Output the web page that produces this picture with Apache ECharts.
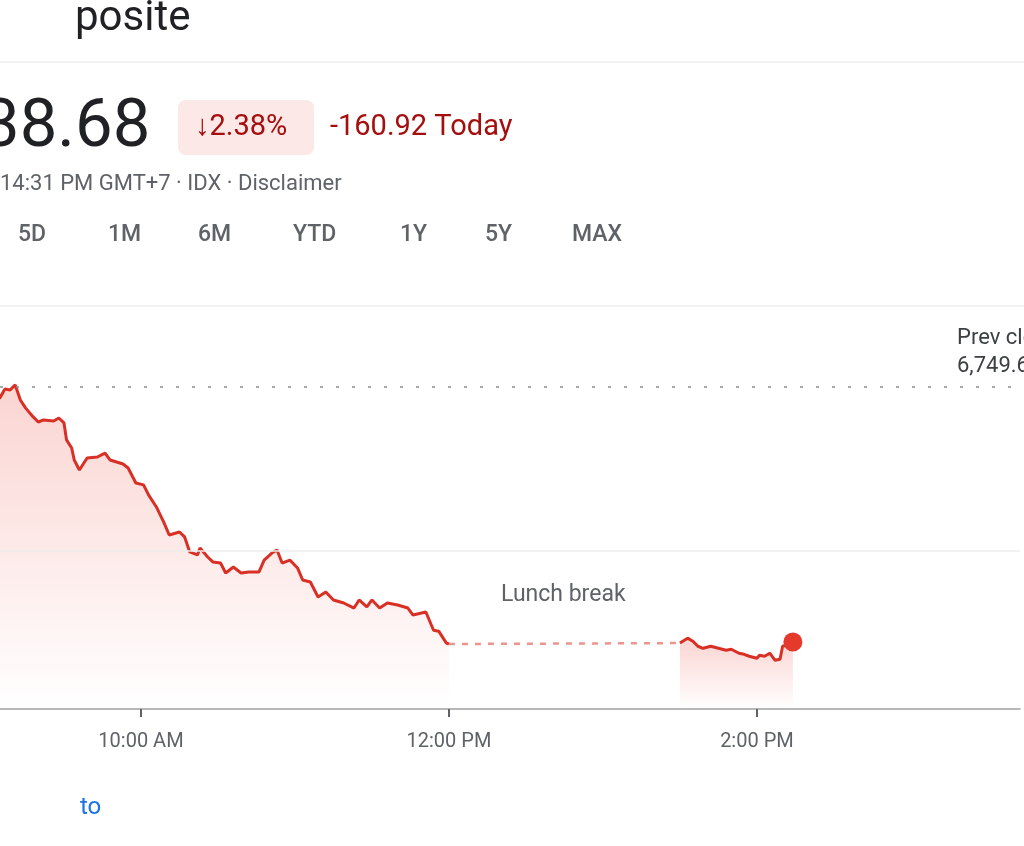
<!DOCTYPE html>
<html>
<head>
<meta charset="utf-8">
<script src="https://cdn.jsdelivr.net/npm/echarts@6/dist/echarts.min.js"></script>
<style>
  html, body { margin: 0; padding: 0; background: #fff; }
  #chart { width: 1024px; height: 846px; }
</style>
</head>
<body>
<div id="chart"></div>
<script>
// intraday prices
const morningTimes = ['09:00','09:05','09:07','09:09','09:11','09:13','09:15','09:18','09:20','09:22',
  '09:26','09:28','09:30','09:31','09:33','09:34','09:36','09:39','09:43','09:46',
  '09:48','09:53','09:55','09:58','10:01','10:03','10:06','10:09','10:11','10:15',
  '10:17','10:19','10:22','10:23','10:26','10:28','10:31','10:33','10:36','10:39',
  '10:42','10:46','10:48','10:51','10:53','10:55','10:58','11:01','11:03','11:06',
  '11:09','11:12','11:15','11:19','11:23','11:25','11:28','11:30','11:33','11:36',
  '11:40','11:44','11:46','11:51','11:54','11:56','11:59','12:00']
const morningValues = [6740.1,6742.7,6748.3,6747.7,6750.9,6741.4,6736.4,6730.7,6727.5,6728.8,
  6728.1,6730.0,6726.9,6716.2,6711.1,6703.5,6697.2,6704.8,6705.4,6707.9,
  6703.5,6701.0,6698.5,6689.0,6687.8,6681.4,6673.9,6663.8,6656.2,6658.1,
  6655.0,6645.5,6643.6,6648.0,6642.3,6639.2,6638.5,6632.2,6636.0,6632.2,
  6632.9,6632.9,6640.4,6644.8,6646.7,6638.5,6640.4,6635.4,6627.8,6626.5,
  6617.1,6620.2,6615.2,6613.3,6610.1,6615.2,6610.8,6615.2,6610.1,6613.3,
  6612.0,6610.1,6605.7,6607.6,6596.1,6595.5,6588.0,6587.4]

const afternoonTimes = ['13:30','13:33','13:35','13:37','13:39','13:42','13:45','13:48','13:50','13:53',
  '13:55','13:57','14:00','14:01','14:03','14:05','14:07','14:09','14:10','14:12','14:14']
const afternoonValues = [6588.0,6591.1,6589.2,6586.0,6584.7,6586.0,6584.7,6583.5,6584.1,6581.6,
  6580.9,6579.7,6578.4,6580.3,6579.7,6581.6,6577.2,6577.8,6586.0,6586.9,6588.68]

const lunchTimes = ['12:00', '13:30']
const lunchValues = [6587.4, 6588.0]

const prevClose = 6749.60
const gridValues = [6646]
const tickTimes = ['10:00', '12:00', '14:00']
const tickLabels = ['10:00 AM', '12:00 PM', '2:00 PM']
const rangeTabs = ['5D', '1M', '6M', 'YTD', '1Y', '5Y', 'MAX']

// visible window of the cropped chart
const xMin = 545.07
const xMax = 942.5
const yMin = 6546.4
const yMax = 6800.7

const toMin = s => {
  const p = s.split(':')
  return Number(p[0]) * 60 + Number(p[1])
}
const pairs = (ts, vs) => ts.map((t, i) => [toMin(t), vs[i]])
const tickMins = tickTimes.map(toMin)

const red = '#d93025'
const gray = '#5f6368'
const fontName = 'Roboto, "Noto Sans", sans-serif'

const areaFill = {
  color: new echarts.graphic.LinearGradient(0, 0, 0, 1, [
    { offset: 0, color: 'rgba(234, 67, 53, 0.32)' },
    { offset: 1, color: 'rgba(234, 67, 53, 0)' }
  ])
}

const tabX = [18, 108, 198, 293, 400, 485, 572]

const txt = (text, x, y, size, color, weight) => ({
  type: 'text',
  style: {
    text: text, x: x, y: y, fill: color,
    font: (weight || 400) + ' ' + size + 'px ' + fontName,
    verticalAlign: 'middle'
  }
})

const chart = echarts.init(document.getElementById('chart'))

chart.setOption({
  backgroundColor: '#fff',
  animation: false,
  grid: { left: 0, right: 4, top: 306, bottom: 137 },
  xAxis: {
    type: 'value',
    min: xMin,
    max: xMax,
    axisLine: { lineStyle: { color: '#a0a0a0', width: 1.5 } },
    axisTick: {
      customValues: tickMins,
      length: 8,
      lineStyle: { color: gray, width: 2 }
    },
    axisLabel: {
      customValues: tickMins,
      formatter: v => tickLabels[tickMins.indexOf(v)],
      margin: 23,
      fontSize: 20,
      color: gray,
      fontFamily: fontName
    },
    splitLine: { show: false }
  },
  yAxis: {
    type: 'value',
    min: yMin,
    max: yMax,
    show: false
  },
  series: [
    {
      name: 'morning',
      type: 'line',
      data: pairs(morningTimes, morningValues),
      showSymbol: false,
      lineStyle: { color: red, width: 3 },
      areaStyle: areaFill,
      z: 3,
      markLine: {
        silent: true,
        symbol: 'none',
        label: { show: false },
        data: [
          { yAxis: prevClose, lineStyle: { color: '#8a8f94', type: [3, 13], width: 1.5 } }
        ].concat(gridValues.map(v => ({ yAxis: v, lineStyle: { color: '#ececec', type: 'solid', width: 1.5 } })))
      }
    },
    {
      name: 'lunch',
      type: 'line',
      data: pairs(lunchTimes, lunchValues),
      showSymbol: false,
      lineStyle: { color: '#ec948d', width: 2.5, type: [6, 7] },
      z: 2
    },
    {
      name: 'afternoon',
      type: 'line',
      data: pairs(afternoonTimes, afternoonValues),
      showSymbol: false,
      lineStyle: { color: red, width: 3 },
      areaStyle: areaFill,
      z: 3
    },
    {
      name: 'last',
      type: 'scatter',
      data: [[toMin(afternoonTimes[afternoonTimes.length - 1]), afternoonValues[afternoonValues.length - 1]]],
      symbolSize: 19,
      itemStyle: { color: '#e5392c', opacity: 1 },
      z: 4
    }
  ],
  graphic: [
    txt('posite', 75, 19, 42, '#202124'),
    { type: 'line', shape: { x1: 0, y1: 62, x2: 1024, y2: 62 }, style: { stroke: '#ececec', lineWidth: 1.5 } },
    txt('38.68', -18, 129, 67, '#202124'),
    { type: 'rect', shape: { x: 178, y: 100, width: 136, height: 55, r: 8 }, style: { fill: '#fce8e6' } },
    txt('\u2193' + '2.38%', 195, 128, 29, '#a50e0e'),
    txt('-160.92 Today', 330, 128, 29, '#a50e0e'),
    txt('14:31 PM GMT+7 \u00b7 IDX \u00b7 Disclaimer', 0, 184, 22, gray),
    ...rangeTabs.map((t, i) => txt(t, tabX[i], 235, 23, gray, 500)),
    { type: 'line', shape: { x1: 0, y1: 306, x2: 1024, y2: 306 }, style: { stroke: '#ececec', lineWidth: 1.5 } },
    txt('Prev close', 957, 338, 22, '#3c4043'),
    txt('6,749.60', 957, 366, 22, '#3c4043'),
    txt('Lunch break', 501, 595, 23, gray),
    txt('to', 80, 808, 24, '#1a73e8')
  ]
})
</script>
</body>
</html>
